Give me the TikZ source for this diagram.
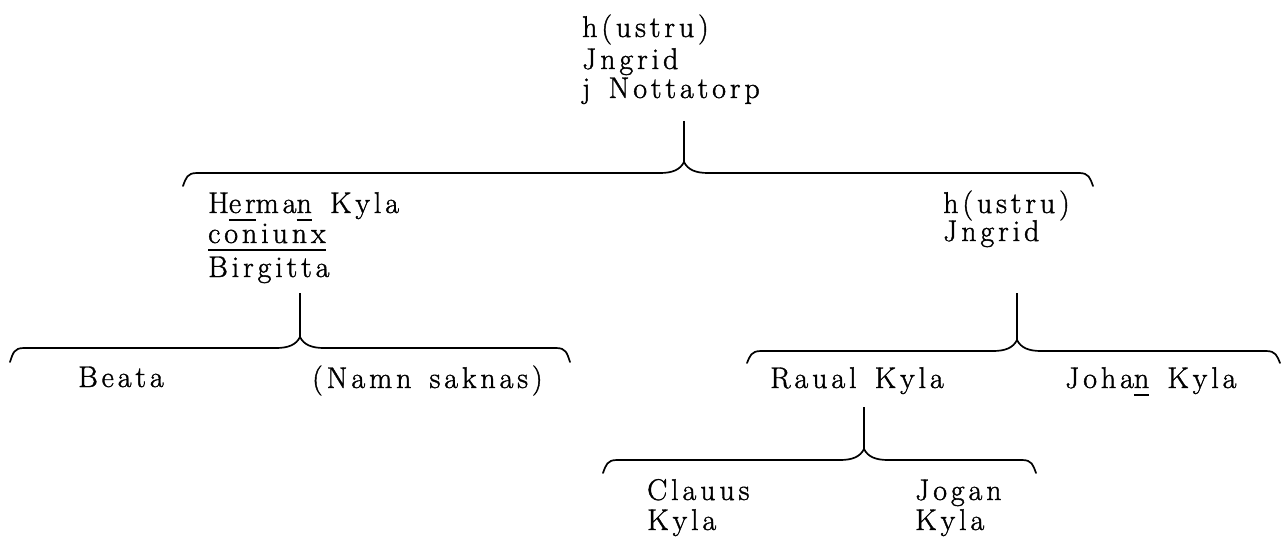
\documentclass[tikz,border=0pt]{standalone}
\usepackage{fontspec}
\setmainfont{Latin Modern Roman}[LetterSpace=13,FakeBold=1.3,WordSpace=1.4]
\newcommand\ul[1]{\leavevmode\setbox2=\hbox{#1}\rlap{\raisebox{-8pt}{\rule{\wd2}{2.2pt}}}\box2\relax}
\newcommand\famBrace[5]{%
  % #1 left x, #2 right x, #3 tip x, #4 line y, #5 end drop
  \draw[bracestyle] ({#1},{#4+#5}) .. controls ({#1+3},{#4+5}) and ({#1+4},{#4}) .. ({#1+14},{#4})
    -- ({#3-24},{#4}) .. controls ({#3-12},{#4}) and ({#3-4},{#4-3}) .. ({#3},{#4-11})
    .. controls ({#3+4},{#4-3}) and ({#3+12},{#4}) .. ({#3+24},{#4})
    -- ({#2-14},{#4}) .. controls ({#2-4},{#4}) and ({#2-3},{#4+5}) .. ({#2},{#4+#5});}
\begin{document}
\begin{tikzpicture}[x=1pt,y=-1pt,
  lbl/.style={anchor=base west,inner sep=0pt,font=\fontsize{30}{34}\selectfont},
  bracestyle/.style={line width=1.7pt,line cap=round,line join=round},
  stemline/.style={line width=1.7pt}]
\useasboundingbox (0,0) rectangle (1287,548);
% top couple
\node[lbl] (t1) at (582,37) {h(ustru)};
\node[lbl] (t2) at (582,69) {Jngrid};
\node[lbl] (t3) at (582,98) {j Nottatorp};
\coordinate (s1) at (684,121);
\coordinate (k1) at (684,162);
\draw[stemline] (s1) -- (k1);
\famBrace{183}{1093}{684}{173}{13}
% Herman
\node[lbl] (h1) at (208,213) {H\ul{er}ma\ul{n} Kyla};
\node[lbl] (h2) at (208,243) {\ul{coniunx}};
\node[lbl] (h3) at (208,277) {Birgitta};
\coordinate (s2) at (300,293);
\coordinate (k2) at (300,337);
\draw[stemline] (s2) -- (k2);
\famBrace{10}{570}{300}{348}{14}
\node[lbl] (beata) at (78,387) {Beata};
\node[lbl] (namn) at (312,388) {(Namn saknas)};
% right h(ustru)
\node[lbl] (r1) at (943,213) {h(ustru)};
\node[lbl] (r2) at (943,241) {Jngrid};
\coordinate (s3) at (1017,293);
\coordinate (k3) at (1017,340);
\draw[stemline] (s3) -- (k3);
\famBrace{747}{1280}{1017}{351}{12}
\node[lbl] (raual) at (770,388) {Raual Kyla};
\node[lbl] (johan) at (1065,388) {Joha\ul{n} Kyla};
% Raual's children
\coordinate (s4) at (864,407);
\coordinate (k4) at (864,449);
\draw[stemline] (s4) -- (k4);
\famBrace{603}{1036}{864}{460}{13}
\node[lbl] (c1) at (647,500) {Clauus};
\node[lbl] (c2) at (647,530) {Kyla};
\node[lbl] (j1) at (915,500) {Jogan};
\node[lbl] (j2) at (915,530) {Kyla};
\end{tikzpicture}
\end{document}
